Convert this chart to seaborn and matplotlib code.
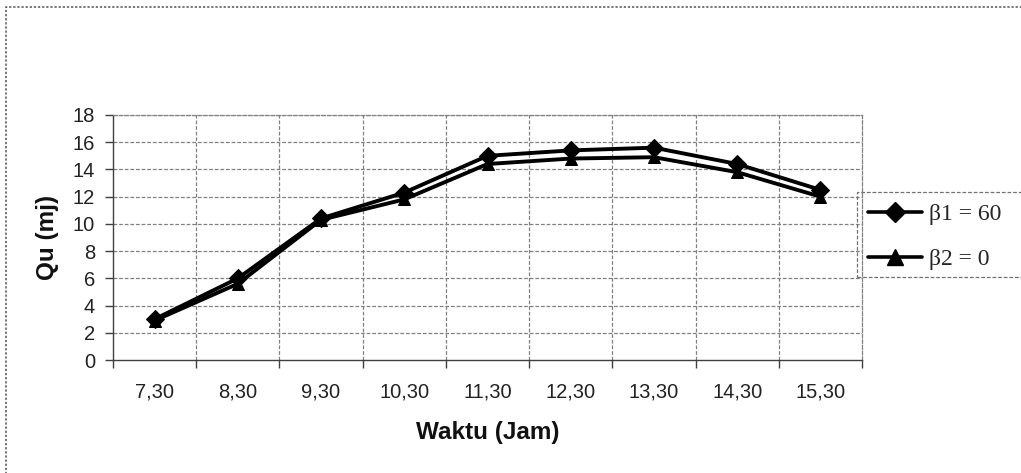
import matplotlib
matplotlib.use("Agg")
import matplotlib.pyplot as plt
from matplotlib.patches import Rectangle
from matplotlib.lines import Line2D
import numpy as np
import pandas as pd
import seaborn as sns

# Data
waktu = ["7,30", "8,30", "9,30", "10,30", "11,30", "12,30", "13,30", "14,30", "15,30"]
qu_beta1 = [3.0, 6.0, 10.4, 12.3, 15.0, 15.4, 15.6, 14.4, 12.5]
qu_beta2 = [2.9, 5.6, 10.3, 11.8, 14.4, 14.8, 14.9, 13.8, 12.0]
label_beta1 = "β1 = 60"
label_beta2 = "β2 = 0"
y_ticks = list(range(0, 19, 2))

df = pd.DataFrame({
    "pos": list(range(len(waktu))) * 2,
    "Qu": qu_beta1 + qu_beta2,
    "seri": [label_beta1] * len(waktu) + [label_beta2] * len(waktu),
})

sns.set_theme(style="white")
plt.rcParams["font.family"] = ["Liberation Sans", "DejaVu Sans"]

W, H = 1021, 473
fig = plt.figure(figsize=(W / 100, H / 100), dpi=100)
ax = fig.add_axes([113 / W, 1 - 360 / H, (862 - 113) / W, (360 - 115) / H])

sns.lineplot(data=df, x="pos", y="Qu", hue="seri", style="seri",
             palette={label_beta1: "black", label_beta2: "black"},
             markers={label_beta1: "D", label_beta2: "^"},
             dashes=False, markersize=9, linewidth=2.8,
             markeredgecolor="black", legend=False, ax=ax)

ax.set_xlim(-0.5, len(waktu) - 0.5)
ax.set_ylim(0, 18)
ax.set_yticks(y_ticks)
ax.set_xticks(range(len(waktu)))
ax.set_xticklabels(waktu)
ax.set_xticks(np.arange(-0.5, len(waktu), 1.0), minor=True)

# grid: horizontal at major y ticks, vertical at category boundaries
ax.grid(False)
for yv in y_ticks[1:]:
    ax.axhline(yv, color="#808080", lw=0.9, ls=(0, (3, 1.5)), zorder=0)
for xv in np.arange(0.5, len(waktu) - 0.5, 1.0):
    ax.axvline(xv, color="#808080", lw=0.9, ls=(0, (3, 1.5)), zorder=0)

for side in ["top", "right"]:
    ax.spines[side].set_visible(True)
    ax.spines[side].set_color("#808080")
    ax.spines[side].set_linestyle((0, (3, 1.5)))
    ax.spines[side].set_linewidth(0.9)
for side in ["left", "bottom"]:
    ax.spines[side].set_color("#404040")
    ax.spines[side].set_linewidth(1.0)

ax.tick_params(axis="y", which="major", left=True, length=6, width=1,
               color="#404040", labelsize=14.5, pad=7, labelcolor="#222222")
ax.tick_params(axis="x", which="major", bottom=False, labelsize=14.5,
               pad=10, labelcolor="#222222")
ax.tick_params(axis="x", which="minor", bottom=True, length=6, width=1,
               color="#404040")

ax.set_xlabel("Waktu (Jam)", fontsize=17.5, fontweight="bold", labelpad=14,
              color="#111111")
ax.set_ylabel("Qu (mj)", fontsize=17.5, fontweight="bold", labelpad=10,
              color="#111111")

# legend at right, serif text, in a dashed box running off the edge
handles = [
    Line2D([0], [0], color="black", lw=2.6, marker="D", markersize=10),
    Line2D([0], [0], color="black", lw=2.6, marker="^", markersize=11),
]
fig.legend(handles, [label_beta1, label_beta2],
           loc="upper left", bbox_to_anchor=(863 / W, 1 - 199 / H),
           frameon=False, handlelength=2.3, handletextpad=0.3,
           labelspacing=1.0, borderpad=0.2, borderaxespad=0.0,
           prop={"family": ["Liberation Serif", "DejaVu Serif"], "size": 17})
fig.patches.append(Rectangle((857 / W, 1 - 277 / H), 200 / W, 85 / H,
                             transform=fig.transFigure, fill=False,
                             edgecolor="#707070", lw=0.9, ls=(0, (3, 1.5))))

# dotted outer frame of the chart
fig.patches.append(Rectangle((6 / W, -0.1), 1.2, 1 - 7 / H + 0.1,
                             transform=fig.transFigure, fill=False,
                             edgecolor="#555555", lw=1.1, ls=(0, (1.5, 1.2))))

fig.savefig("out.png", dpi=100, facecolor="white")
